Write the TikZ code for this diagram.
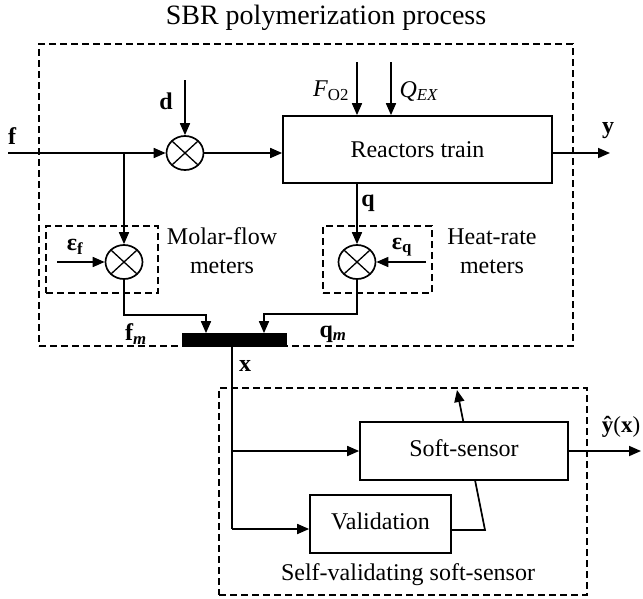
\documentclass[tikz,border=0pt]{standalone}
\usepackage{fontspec}
\setmainfont{Liberation Serif}
\usetikzlibrary{arrows.meta,shapes.geometric}
\begin{document}
\begin{tikzpicture}[x=1pt,y=-1pt,
  line width=1.7pt,
  arr/.style={-{Triangle[length=12pt,width=10pt]}},
  dbox/.style={draw, line width=1.2pt, dash pattern=on 7pt off 4pt, inner sep=0pt},
  mult/.style={draw, ellipse, minimum width=37pt, minimum height=34pt, inner sep=0pt,
    path picture={\draw[line width=1.3pt] (path picture bounding box.north west) -- (path picture bounding box.south east)
      (path picture bounding box.south west) -- (path picture bounding box.north east);}},
  blk/.style={draw, fill=white, inner sep=0pt, font=\fontsize{24}{28}\selectfont},
  lbl/.style={inner sep=0pt, font=\fontsize{24}{28}\selectfont\bfseries},
  txt/.style={inner sep=0pt, font=\fontsize{24}{29}\selectfont, align=center},
]
\useasboundingbox (0,0) rectangle (643,598);

% frames
\node[dbox, minimum width=534pt, minimum height=302pt] (outer) at (306,195) {};
\node[dbox, minimum width=112pt, minimum height=67pt] (molarbox) at (102,259.5) {};
\node[dbox, minimum width=109pt, minimum height=67pt] (heatbox) at (377.5,259.5) {};
\node[dbox, minimum width=368pt, minimum height=207pt] (inner) at (403,491.5) {};

% title
\node[inner sep=0pt, font=\fontsize{28}{32}\selectfont] (title) at (326,18) {SBR polymerization process};

% blocks
\node[blk, minimum width=269pt, minimum height=67pt] (reactor) at (417.5,149.5) {Reactors train};
\node[mult] (md) at (185,153) {};
\node[mult] (mf) at (124,262) {};
\node[mult] (mq) at (357,262) {};
\node[draw, fill=black, inner sep=0pt, minimum width=103pt, minimum height=12pt] (bar) at (234.5,340) {};
\node[blk, minimum width=141pt, minimum height=58pt] (valid) at (380.5,524) {\raisebox{5pt}{Validation}};

% validation to soft-sensor (passes behind the soft-sensor block)
\coordinate (vk) at (485,530);
\coordinate (vt) at (457,390);
\draw[arr] (valid.east |- vk) -- (vk) -- (vt);

\node[blk, minimum width=208pt, minimum height=58pt] (soft) at (464,451) {\raisebox{5pt}{Soft-sensor}};

% coordinates of free ends
\coordinate (fin) at (8,153);
\coordinate (fbr) at (124,153);
\coordinate (din) at (185,80);
\coordinate (fo) at (357,62);
\coordinate (qe) at (391,62);
\coordinate (yout) at (610,153);
\coordinate (eq) at (426,262);
\coordinate (ef) at (57,262);
\coordinate (bf) at (206,315);
\coordinate (bq) at (264,314);
\coordinate (xb) at (232,529);
\coordinate (yh) at (641,451);

% connectors
\draw[arr] (fin) -- (md.west);
\draw[arr] (fbr) -- (mf.north);
\draw[arr] (din) -- (md.north);
\draw[arr] (md.east) -- (md.east -| reactor.west);
\draw[arr] (fo) -- (fo |- reactor.north);
\draw[arr] (qe) -- (qe |- reactor.north);
\draw[arr] (yout -| reactor.east) -- (yout);
\draw[arr] (mq |- reactor.south) -- (mq.north);
\draw[arr] (eq) -- (mq.east);
\draw[arr] (ef) -- (mf.west);
\draw[arr] (mf.south) |- (bf) -- (bf |- bar.north);
\draw[arr] (mq.south) |- (bq) -- (bq |- bar.north);
\draw (bar.south -| xb) -- (xb);
\draw[arr] (xb) -- (xb -| valid.west);
\draw[arr] (xb |- soft.west) -- (soft.west);
\draw[arr] (soft.east) -- (yh);

% labels
\node[lbl] (lf) at (12,136) {f};
\node[lbl] (ld) at (166,101) {d};
\node[lbl] (ly) at (608,131) {y};
\node[lbl] (lq) at (368,203) {q};
\node[lbl] (lef) at (75,247) {ε\textsubscript{f}};
\node[lbl] (leq) at (402,247) {ε\textsubscript{q}};
\node[lbl] (lfm) at (136,334) {f\textsubscript{\textit{m}}};
\node[lbl] (lqm) at (333,334) {q\textsubscript{\textit{m}}};
\node[lbl] (lx) at (245,366) {x};
\node[inner sep=0pt, font=\fontsize{23}{26}\selectfont] (lyh) at (621,427) {\textbf{ŷ}(\textbf{x})};
\node[txt] (lfo) at (331,91) {\textit{F}\textsubscript{O2}};
\node[txt] (lqe) at (419,91) {\textit{Q}\textsubscript{\textit{EX}}};
\node[txt] (lmolar) at (222,251) {Molar-flow\\meters};
\node[txt] (lheat) at (492,251) {Heat-rate\\meters};
\node[txt] (lself) at (408,575) {Self-validating soft-sensor};
\end{tikzpicture}
\end{document}
